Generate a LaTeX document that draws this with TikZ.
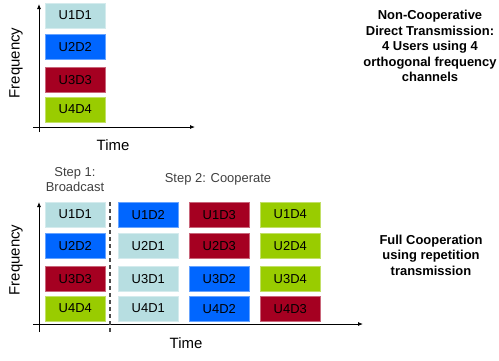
\documentclass[tikz,border=0pt]{standalone}
\usepackage{fontspec}
\setmainfont{Liberation Sans}
\usetikzlibrary{arrows.meta}
\definecolor{cLB}{RGB}{183,222,225}
\definecolor{cBL}{RGB}{0,102,255}
\definecolor{cRD}{RGB}{165,0,33}
\definecolor{cGR}{RGB}{153,204,0}
\begin{document}
\begin{tikzpicture}[x=1bp,y=-1bp,
  slot/.style={fill=#1, draw=#1!60!white, line width=0.6bp, minimum width=60bp, minimum height=24.5bp,
    inner sep=0pt, anchor=north west, font=\fontsize{13}{15}\selectfont, text=black},
  axis/.style={line width=0.8bp, black, -{Latex[length=5bp,width=4bp]}},
  axlabel/.style={font=\fontsize{15}{17}\selectfont},
  note/.style={font=\fontsize{13}{15.5}\selectfont\bfseries, align=center},
  steplabel/.style={font=\fontsize{13}{15}\selectfont, text=black!75, align=center}]
\useasboundingbox (0,0) rectangle (499,360);

% ---------- top diagram ----------
\coordinate (tyb) at (39,132);
\coordinate (tyt) at (39,4);
\coordinate (txl) at (33,127);
\coordinate (txr) at (195,127);
\draw[axis] (tyb) -- (tyt);
\draw[axis] (txl) -- (txr);
\node[axlabel, rotate=90] (tfreq) at (16,63) {Frequency};
\node[axlabel] (ttime) at (113,145) {Time};

\node[slot=cLB] (a1) at (45,3)  {U1D1};
\node[slot=cBL] (a2) at (45,34) {U2D2};
\node[slot=cRD] (a3) at (45,67) {U3D3};
\node[slot=cGR] (a4) at (45,97) {U4D4};

\node[note] (tnote) at (430,46) {Non-Cooperative\\Direct Transmission:\\4 Users using 4\\orthogonal frequency\\channels};

% ---------- bottom diagram ----------
\coordinate (byb) at (39,332);
\coordinate (byt) at (39,202);
\coordinate (bxl) at (33,324);
\coordinate (bxr) at (363,324);
\coordinate (dtop) at (110,202);
\coordinate (dbot) at (110,332);
\draw[axis] (byb) -- (byt);
\draw[axis] (bxl) -- (bxr);
\draw[black!70, line width=1.2bp, dash pattern=on 4bp off 3bp] (dtop) -- (dbot);
\node[axlabel, rotate=90] (bfreq) at (16,260) {Frequency};
\node[axlabel] (btime) at (186,343) {Time};

\node[steplabel] (s1) at (75,180) {Step 1:\\Broadcast};
\node[steplabel] (s2) at (218,179) {Step 2: Cooperate};

\node[slot=cLB] (b11) at (45,202) {U1D1};
\node[slot=cBL] (b21) at (45,233) {U2D2};
\node[slot=cRD] (b31) at (45,266) {U3D3};
\node[slot=cGR] (b41) at (45,296) {U4D4};

\node[slot=cBL] (b12) at (118,202) {U1D2};
\node[slot=cLB] (b22) at (118,233) {U2D1};
\node[slot=cLB] (b32) at (118,266) {U3D1};
\node[slot=cLB] (b42) at (118,296) {U4D1};

\node[slot=cRD] (b13) at (189,202) {U1D3};
\node[slot=cRD] (b23) at (189,233) {U2D3};
\node[slot=cBL] (b33) at (189,266) {U3D2};
\node[slot=cBL] (b43) at (189,296) {U4D2};

\node[slot=cGR] (b14) at (260,202) {U1D4};
\node[slot=cGR] (b24) at (260,233) {U2D4};
\node[slot=cGR] (b34) at (260,266) {U3D4};
\node[slot=cRD] (b44) at (260,296) {U4D3};

\node[note] (bnote) at (431,255) {Full Cooperation\\using repetition\\transmission};
\end{tikzpicture}
\end{document}
